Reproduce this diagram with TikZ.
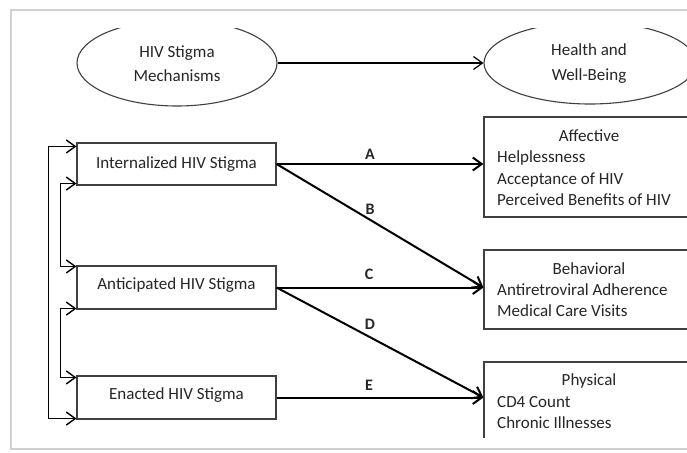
\documentclass[tikz,border=0pt]{standalone}
\usepackage{fontspec}
\setmainfont{Carlito}
\usetikzlibrary{arrows.meta,shapes.geometric}
\begin{document}
\begin{tikzpicture}[x=1pt,y=-1pt,
  every node/.style={font=\fontsize{17}{21}\selectfont, text=black!85},
  stbox/.style={draw=black!75, line width=1.1pt, rectangle, inner sep=0pt},
  oval/.style={draw=black!75, line width=1.1pt, ellipse, inner sep=0pt},
  txt/.style={inner sep=0pt, anchor=base},
  ltxt/.style={inner sep=0pt, anchor=base west},
  lbl/.style={inner sep=0pt, anchor=base, font=\fontsize{16}{20}\selectfont\bfseries},
  main/.style={line width=2pt, -{Straight Barb[length=9pt,width=13pt,line width=2pt]}},
  thin/.style={line width=1.2pt, -{Straight Barb[length=9pt,width=13pt,line width=1.2pt]}},
  fb/.style={line width=1.5pt, {Straight Barb[length=9pt,width=13pt,line width=1.4pt]}-{Straight Barb[length=9pt,width=13pt,line width=1.4pt]}},
  frame/.style={draw=black!18, line width=2.5pt}
]
\fill[white] (0,0) rectangle (687,452);
\useasboundingbox (0,0) rectangle (687,452);
% frame
\draw[frame] (687,10) -- (11,10) -- (11,449) -- (687,449);

\begin{scope}
\clip (13,29) rectangle (687,437);
% ellipses
\node[oval, minimum width=200pt, minimum height=86pt] (lel) at (177,63) {};
\node[oval, minimum width=212pt, minimum height=82pt] (rel) at (590,63) {};
% left boxes
\node[stbox, minimum width=199pt, minimum height=42pt] (int) at (176.5,164) {};
\node[stbox, minimum width=199pt, minimum height=43pt] (ant) at (176.5,287.5) {};
\node[stbox, minimum width=199pt, minimum height=43pt] (ena) at (176.5,397.5) {};
% right boxes
\node[stbox, minimum width=212pt, minimum height=100pt] (aff) at (590,167) {};
\node[stbox, minimum width=212pt, minimum height=79pt] (beh) at (590,289.5) {};
\node[stbox, minimum width=212pt, minimum height=80pt] (phy) at (590,402) {};
\end{scope}

% texts
\node[txt] (t1) at (177,58) {HIV Stigma};
\node[txt] (t2) at (177,81) {Mechanisms};
\node[txt] (t3) at (589,56) {Health and};
\node[txt] (t4) at (589,80) {Well-Being};
\node[txt] (t5) at (176.5,168) {Internalized HIV Stigma};
\node[txt] (t6) at (176.5,289) {Anticipated HIV Stigma};
\node[txt] (t7) at (176.5,399) {Enacted HIV Stigma};

\node[txt] (a0) at (589,141) {Affective};
\node[ltxt] (a1) at (497,162) {Helplessness};
\node[ltxt] (a2) at (497,184) {Acceptance of HIV};
\node[ltxt] (a3) at (497,205) {Perceived Benefits of HIV};
\node[txt] (b0) at (589,274) {Behavioral};
\node[ltxt] (b1) at (497,295) {Antiretroviral Adherence};
\node[ltxt] (b2) at (497,316) {Medical Care Visits};
\node[txt] (p0) at (589,385) {Physical};
\node[ltxt] (p1) at (497,407) {CD4 Count};
\node[ltxt] (p2) at (497,428) {Chronic Illnesses};

% labels
\node[lbl] (lA) at (370,159) {A};
\node[lbl] (lB) at (370,214) {B};
\node[lbl] (lC) at (369,279) {C};
\node[lbl] (lD) at (370,329) {D};
\node[lbl] (lE) at (369,390) {E};

% connectors
\draw[thin] (lel.east) -- (rel.west);
\draw[main] (int.east) -- (int.east -| aff.west);
\draw[main] (int.east) -- (ant.east -| beh.west);
\draw[main] (ant.east) -- (ant.east -| beh.west);
\draw[main] (ant.east) -- (ena.east -| phy.west);
\draw[main] (ena.east) -- (ena.east -| phy.west);

% feedback
\draw[fb] ([yshift=-4pt]int.north west) -- ++(-28,0) |- ([yshift=1pt]ena.south west);
\draw[fb] ([yshift=2pt]int.south west) -- ++(-16,0) |- ([yshift=-1pt]ant.north west);
\draw[fb] ([yshift=1pt]ant.south west) -- ++(-16,0) |- ([yshift=-2pt]ena.north west);
\end{tikzpicture}
\end{document}
